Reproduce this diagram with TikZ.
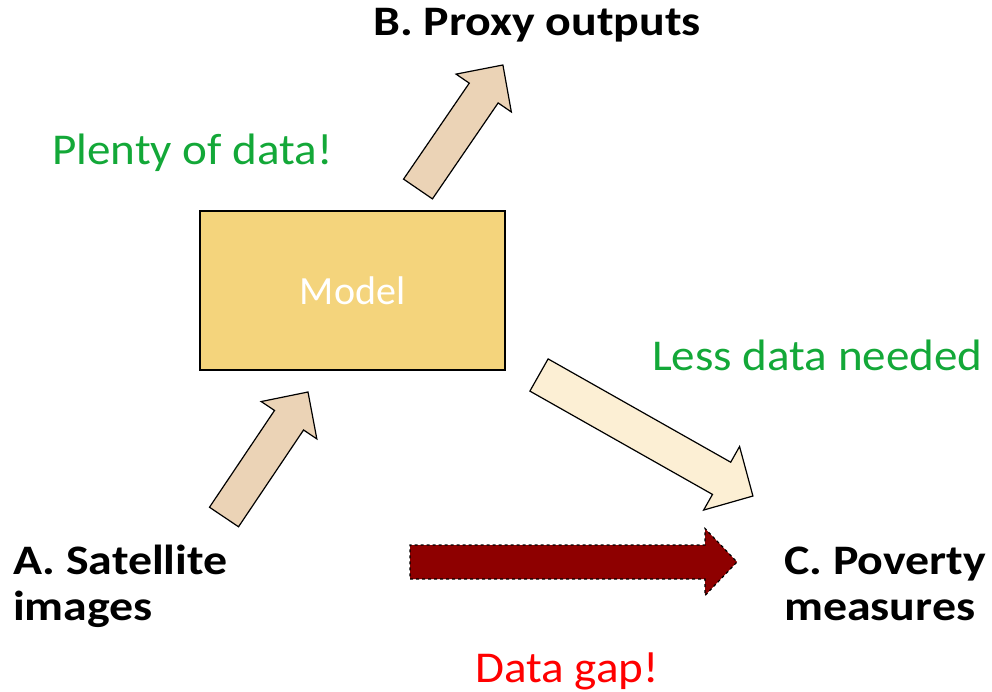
\documentclass[tikz,border=0pt]{standalone}
\usepackage{fontspec}
\setmainfont{Carlito}
\newfontfamily\widelabel{Carlito}[FakeStretch=1.14]
\newfontfamily\widenote{Carlito}[FakeStretch=1.07]
\usepackage{tikz}
\usetikzlibrary{positioning}

\definecolor{modelfill}{HTML}{F4D47C}
\definecolor{tanfill}{HTML}{EBD3B6}
\definecolor{paletan}{HTML}{FCEFD4}
\definecolor{gapred}{HTML}{8E0000}
\definecolor{datagreen}{HTML}{13A838}
\definecolor{alertred}{HTML}{FF0000}

% block arrow: style, tail, angle, length, shaft, head width, head length
\newcommand{\blockarrow}[7]{%
  \draw[#1, shift={(#2)}, rotate=#3]
    (0,-#5/2) -- (#4-#7,-#5/2) -- (#4-#7,-#6/2) -- (#4,0)
    -- (#4-#7,#6/2) -- (#4-#7,#5/2) -- (0,#5/2) -- cycle;}

\tikzset{
  biglabel/.style={font=\widelabel\fontsize{42}{46}\selectfont\bfseries, inner sep=0pt, anchor=base west, align=left},
  note/.style={font=\widenote\fontsize{44}{48}\selectfont, inner sep=0pt, anchor=base west},
  modelbox/.style={draw=black, line width=1.2pt, fill=modelfill, minimum width=305pt,
    minimum height=159pt, text=white, font=\fontsize{40}{44}\selectfont},
  fatarrow/.style={draw=black, line width=1.2pt, line join=miter},
}

\begin{document}
\begin{tikzpicture}[x=1pt,y=1pt]
  \useasboundingbox (0,0) rectangle (992,-692);

  % box
  \node[modelbox] (model) at (352.5,-290.5) {Model};

  % labels (base = last line)
  \node[biglabel] (proxy) at (373,-36) {B. Proxy outputs};
  \node[biglabel] (sat) at (13,-620) {A. Satellite\\images};
  \node[biglabel] (pov) at (784,-620) {C. Poverty\\measures};
  \node[note, text=datagreen] (plenty) at (52,-165) {Plenty of data!};
  \node[note, text=datagreen] (less) at (652,-370) {Less data needed};
  \node[note, text=alertred] (gap) at (475,-682) {Data gap!};

  % arrows
  \coordinate (outTail) at (418,-189);
  \coordinate (inTail) at (224,-517);
  \coordinate (fineTail) at (539,-375);
  \coordinate (gapTail) at (410,-562);
  \blockarrow{fatarrow, fill=tanfill}{outTail}{55.6}{150.3}{35}{67}{34}
  \blockarrow{fatarrow, fill=tanfill}{inTail}{56.1}{150.6}{35}{67}{34}
  \blockarrow{fatarrow, fill=paletan}{fineTail}{-29.5}{245.8}{37}{73}{36}
  \blockarrow{fatarrow, fill=gapred, dashed}{gapTail}{0}{327}{34}{67}{32}

\end{tikzpicture}
\end{document}
